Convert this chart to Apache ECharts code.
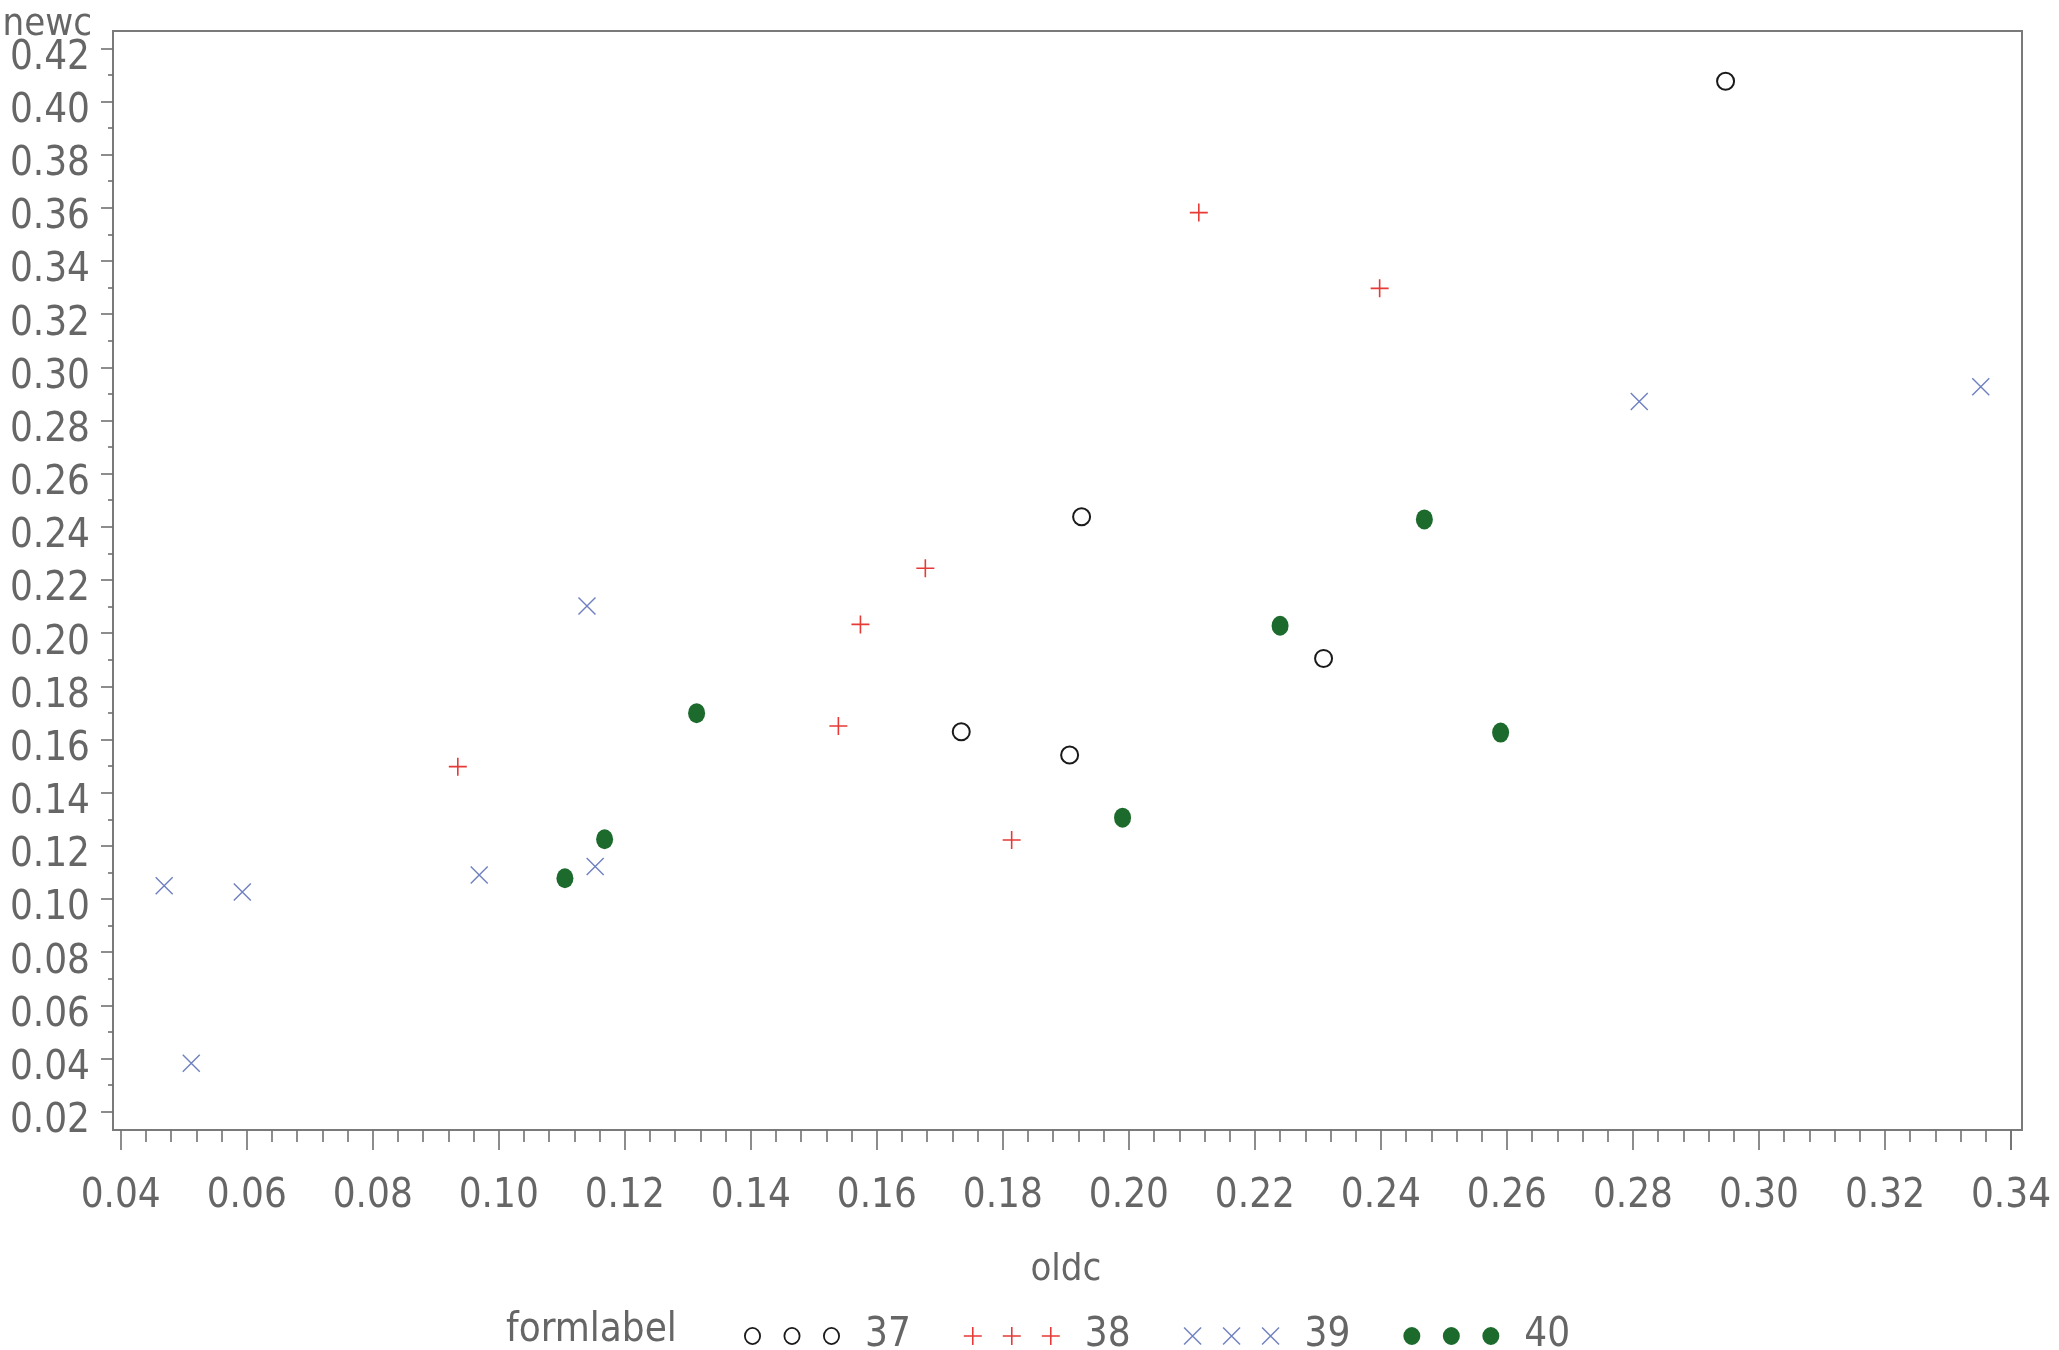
<!DOCTYPE html>
<html>
<head>
<meta charset="utf-8">
<script src="https://cdn.jsdelivr.net/npm/echarts@6/dist/echarts.min.js"></script>
<style>
html,body{margin:0;padding:0;background:#fff;}
#chart{width:2059px;height:1350px;}
</style>
</head>
<body>
<div id="chart"></div>
<script>
// ---------- data ----------
const seriesNames = ['37', '38', '39', '40'];

const oldc37 = [0.2947, 0.1925, 0.2309, 0.1734, 0.1906];
const newc37 = [0.4076, 0.2438, 0.1905, 0.1629, 0.1542];

const oldc38 = [0.2111, 0.2398, 0.1677, 0.1574, 0.1539, 0.0935, 0.1814];
const newc38 = [0.3582, 0.3297, 0.2244, 0.2033, 0.1651, 0.1498, 0.1222];

const oldc39 = [0.3352, 0.2810, 0.1140, 0.0969, 0.1153, 0.0469, 0.0593, 0.0512];
const newc39 = [0.2927, 0.2871, 0.2102, 0.1090, 0.1122, 0.1050, 0.1026, 0.0382];

const oldc40 = [0.2469, 0.2240, 0.1314, 0.2590, 0.1990, 0.1168, 0.1105];
const newc40 = [0.2428, 0.2028, 0.1699, 0.1626, 0.1306, 0.1225, 0.1078];

const xTickLabels = ['0.04','0.06','0.08','0.10','0.12','0.14','0.16','0.18','0.20','0.22','0.24','0.26','0.28','0.30','0.32','0.34'];
const yTickLabels = ['0.02','0.04','0.06','0.08','0.10','0.12','0.14','0.16','0.18','0.20','0.22','0.24','0.26','0.28','0.30','0.32','0.34','0.36','0.38','0.40','0.42'];

const xAxisName = 'oldc';
const yAxisName = 'newc';
const legendTitle = 'formlabel';

// ---------- styling ----------
const FONT = "'Liberation Sans Narrow','DejaVu Sans Condensed','Liberation Sans',sans-serif";
const TEXT = '#666666';
const AXIS = '#707070';
const colors = ['#1a1a1a', '#e53a35', '#6f80c0', '#1c6a2c'];

const xMin = parseFloat(xTickLabels[0]);
const xMax = parseFloat(xTickLabels[xTickLabels.length - 1]);
const xStep = parseFloat(xTickLabels[1]) - xMin;
const yMin = parseFloat(yTickLabels[0]);
const yMax = parseFloat(yTickLabels[yTickLabels.length - 1]);
const yStep = parseFloat(yTickLabels[1]) - yMin;

function pairs(xs, ys) { return xs.map((x, i) => [x, ys[i]]); }

// marker shapes
const plusPath = 'path://M0,8.2H18V9.8H0Z M8.2,0H9.8V18H8.2Z';
const crossPath = 'path://M0,1L1,0L18,17L17,18Z M17,0L18,1L1,18L0,17Z';

// legend icons: three symbols in a row (96 x 18 box)
function ringIcon() {
  let p = '';
  [8.5, 48, 87.5].forEach(c => {
    p += `M${c-8.5},9A8.5,9 0 1,0 ${c+8.5},9A8.5,9 0 1,0 ${c-8.5},9Z `;
    p += `M${c-6.7},9A6.7,7.2 0 1,1 ${c+6.7},9A6.7,7.2 0 1,1 ${c-6.7},9Z `;
  });
  return 'path://' + p;
}
function plusIcon() {
  let p = '';
  [9, 48, 87].forEach(c => {
    p += `M${c-9},8.2H${c+9}V9.8H${c-9}Z M${c-0.8},0H${c+0.8}V18H${c-0.8}Z `;
  });
  return 'path://' + p;
}
function crossIcon() {
  let p = '';
  [9, 48, 87].forEach(c => {
    const x0 = c - 9;
    p += `M${x0},1L${x0+1},0L${x0+18},17L${x0+17},18Z M${x0+17},0L${x0+18},1L${x0+1},18L${x0},17Z `;
  });
  return 'path://' + p;
}
function dotIcon() {
  let p = '';
  [8.5, 48, 87.5].forEach(c => {
    p += `M${c-8.5},9A8.5,9 0 1,0 ${c+8.5},9A8.5,9 0 1,0 ${c-8.5},9Z `;
  });
  return 'path://' + p;
}
const legendIcons = [ringIcon(), plusIcon(), crossIcon(), dotIcon()];

const chart = echarts.init(document.getElementById('chart'), null, {renderer: 'canvas'});

const option = {
  backgroundColor: '#ffffff',
  animation: false,
  title: [
    {
      text: legendTitle,
      left: 501,
      top: 1306,
      padding: 5,
      textStyle: {fontFamily: FONT, fontSize: 40, fontWeight: 'normal', color: TEXT}
    },
    {
      text: yAxisName,
      right: 1967,
      top: 6,
      padding: 0,
      textStyle: {fontFamily: FONT, fontSize: 38, fontWeight: 'normal', color: TEXT}
    }
  ],
  legend: {
    left: 739,
    top: 1311,
    itemWidth: 96,
    itemHeight: 18,
    itemGap: 53,
    selectedMode: false,
    textStyle: {fontFamily: FONT, fontSize: 40, color: TEXT, padding: [0, 0, 0, 20]},
    data: seriesNames.map((name, i) => ({
      name: name,
      icon: legendIcons[i],
      itemStyle: {color: colors[i], borderWidth: 0, opacity: 1}
    }))
  },
  grid: [
    {left: 113, top: 31, right: 37, bottom: 220, show: true, borderColor: '#7a7a7a', borderWidth: 2,
     backgroundColor: 'transparent', containLabel: false, outerBoundsMode: 'none'},
    {left: 120.7, top: 48.3, right: 48, bottom: 238.3, containLabel: false, outerBoundsMode: 'none'}
  ],
  xAxis: [
    {gridIndex: 0, type: 'value', show: false, min: 0, max: 1},
    {
      gridIndex: 1, type: 'value', min: xMin, max: xMax, interval: xStep,
      offset: 18.3,
      axisLine: {show: false},
      axisTick: {show: true, length: 20, lineStyle: {color: AXIS, width: 1.6}},
      minorTick: {show: true, splitNumber: 5, length: 12, lineStyle: {color: AXIS, width: 1.6}},
      splitLine: {show: false},
      minorSplitLine: {show: false},
      axisLabel: {
        show: true, margin: 47, fontFamily: FONT, fontSize: 40, color: TEXT,
        showMinLabel: true, showMaxLabel: true,
        formatter: v => xTickLabels.find(t => Math.abs(parseFloat(t) - v) < 1e-9) || v.toFixed(2)
      },
      name: xAxisName,
      nameLocation: 'middle',
      nameGap: 121,
      nameTextStyle: {fontFamily: FONT, fontSize: 38, color: TEXT}
    }
  ],
  yAxis: [
    {gridIndex: 0, type: 'value', show: false, min: 0, max: 1},
    {
      gridIndex: 1, type: 'value', min: yMin, max: yMax, interval: yStep,
      offset: 7.7,
      axisLine: {show: false},
      axisTick: {show: true, length: 12, lineStyle: {color: AXIS, width: 1.6}},
      minorTick: {show: true, splitNumber: 2, length: 5, lineStyle: {color: AXIS, width: 1.6}},
      splitLine: {show: false},
      minorSplitLine: {show: false},
      axisLabel: {
        show: true, margin: 23, fontFamily: FONT, fontSize: 40, color: TEXT,
        verticalAlign: 'top', lineHeight: 20,
        showMinLabel: true, showMaxLabel: true,
        formatter: v => yTickLabels.find(t => Math.abs(parseFloat(t) - v) < 1e-9) || v.toFixed(2)
      }
    }
  ],
  series: [
    {
      name: seriesNames[0], type: 'scatter', xAxisIndex: 1, yAxisIndex: 1,
      symbol: 'emptyCircle', symbolSize: 17,
      itemStyle: {color: colors[0], borderWidth: 1.8, opacity: 1},
      data: pairs(oldc37, newc37)
    },
    {
      name: seriesNames[1], type: 'scatter', xAxisIndex: 1, yAxisIndex: 1,
      symbol: plusPath, symbolSize: 18,
      itemStyle: {color: colors[1], opacity: 1},
      data: pairs(oldc38, newc38)
    },
    {
      name: seriesNames[2], type: 'scatter', xAxisIndex: 1, yAxisIndex: 1,
      symbol: crossPath, symbolSize: 18,
      itemStyle: {color: colors[2], opacity: 1},
      data: pairs(oldc39, newc39)
    },
    {
      name: seriesNames[3], type: 'scatter', xAxisIndex: 1, yAxisIndex: 1,
      symbol: 'circle', symbolSize: [17, 20],
      itemStyle: {color: colors[3], opacity: 1},
      data: pairs(oldc40, newc40)
    }
  ]
};

chart.setOption(option);
</script>
</body>
</html>
